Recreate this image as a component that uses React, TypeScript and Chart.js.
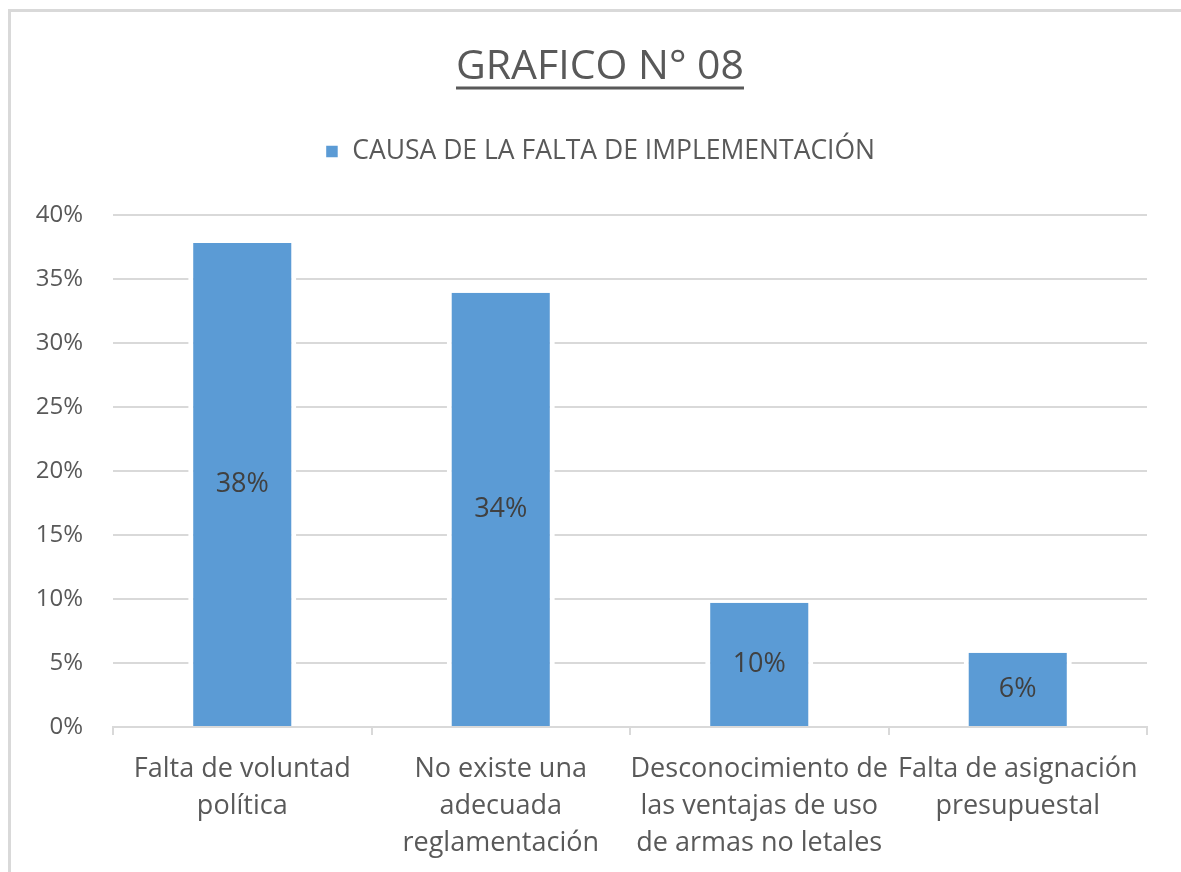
import React, { useEffect, useRef } from "react";
import { Chart, registerables } from "chart.js";

Chart.register(...registerables);

const titleText = "GRAFICO N° 08";
const seriesName = "CAUSA DE LA FALTA DE IMPLEMENTACIÓN";
const categories: string[][] = [
  ["Falta de voluntad", "política"],
  ["No existe una", "adecuada", "reglamentación"],
  ["Desconocimiento de", "las ventajas de uso", "de armas no letales"],
  ["Falta de asignación", "presupuestal"],
];
const values: number[] = [37.8, 33.9, 9.7, 5.8];
const yMax = 40;
const yStep = 5;

const FONT = "'Open Sans', 'Noto Sans', sans-serif";
const TEXT = "#595959";
const GRID = "#d9d9d9";
const BAR = "#5B9BD5";

const TITLE_SIZE = 41;
const CANVAS_W = 1200;
const CANVAS_H = 882;

const legendSpacer = {
  id: "legendSpacer",
  beforeInit(chart: any) {
    if (!chart.legend) return;
    const orig = chart.legend.fit;
    chart.legend.fit = function fit() {
      orig.bind(chart.legend)();
      this.height += 40;
    };
  },
};

const underlineTitle = {
  id: "underlineTitle",
  afterDraw(chart: any) {
    const t = chart.titleBlock;
    if (!t) return;
    const ctx = chart.ctx;
    ctx.save();
    ctx.font = `normal ${TITLE_SIZE}px ${FONT}`;
    const w = ctx.measureText(titleText).width;
    const cx = (t.left + t.right) / 2;
    const top = t.top + t.options.padding.top;
    const cy = top + (TITLE_SIZE * 1.2) / 2;
    const y = cy + TITLE_SIZE * 0.5;
    ctx.strokeStyle = TEXT;
    ctx.lineWidth = 3;
    ctx.beginPath();
    ctx.moveTo(cx - w / 2, y);
    ctx.lineTo(cx + w / 2, y);
    ctx.stroke();
    ctx.restore();
  },
};

const barLabels = {
  id: "barLabels",
  afterDatasetsDraw(chart: any) {
    const ctx = chart.ctx;
    const meta = chart.getDatasetMeta(0);
    ctx.save();
    ctx.font = `normal 27px ${FONT}`;
    ctx.fillStyle = "#404040";
    ctx.textAlign = "center";
    ctx.textBaseline = "middle";
    meta.data.forEach((bar: any, i: number) => {
      const v = chart.data.datasets[0].data[i] as number;
      ctx.fillText(Math.round(v) + "%", bar.x, (bar.y + bar.base) / 2);
    });
    ctx.restore();
  },
};

export default function App() {
  const ref = useRef<HTMLCanvasElement | null>(null);
  useEffect(() => {
    if (!ref.current) return;
    const chart = new Chart(ref.current, {
      type: "bar",
      data: {
        labels: categories,
        datasets: [
          {
            label: seriesName,
            data: values,
            backgroundColor: BAR,
            borderColor: "#ffffff",
            borderWidth: { left: 5, right: 5, top: 0, bottom: 0 } as any,
            borderSkipped: false,
            categoryPercentage: 1,
            barPercentage: 0.418,
          },
        ],
      },
      options: {
        animation: false,
        responsive: false,
        maintainAspectRatio: false,
        layout: { padding: { left: 0, right: 0, top: 0, bottom: 4 } },
        plugins: {
          title: {
            display: true,
            text: titleText,
            color: TEXT,
            font: { family: FONT, size: TITLE_SIZE, weight: "normal" as any, lineHeight: 1.2 },
            padding: { top: 43, bottom: 36 },
          },
          legend: {
            display: true,
            position: "top",
            labels: {
              color: TEXT,
              font: { family: FONT, size: 26.5 },
              boxWidth: 14,
              boxHeight: 14,
              padding: 10,
            },
          },
          tooltip: { enabled: false },
        },
        scales: {
          x: {
            offset: true,
            grid: {
              display: true,
              drawOnChartArea: false,
              drawTicks: true,
              tickLength: 8,
              color: GRID,
              lineWidth: 2,
            },
            border: { display: true, color: GRID, width: 2 },
            ticks: {
              color: TEXT,
              font: { family: FONT, size: 27, lineHeight: 1.37 },
              padding: 16,
              maxRotation: 0,
              minRotation: 0,
              autoSkip: false,
            },
          },
          y: {
            min: 0,
            max: yMax,
            afterFit(scale: any) {
              scale.width = 113;
            },
            grid: { color: GRID, lineWidth: 2, drawTicks: false },
            border: { display: false },
            ticks: {
              stepSize: yStep,
              color: TEXT,
              font: { family: FONT, size: 24 },
              padding: 30,
              callback: (v: any) => v + "%",
            },
          },
          yRight: {
            type: "linear",
            position: "right",
            display: true,
            afterFit(scale: any) {
              scale.width = CANVAS_W - 1147;
            },
            grid: { display: false, drawTicks: false },
            border: { display: false },
            ticks: { display: false },
          },
        },
      },
      plugins: [legendSpacer, underlineTitle, barLabels],
    });
    return () => chart.destroy();
  }, []);

  return (
    <div
      style={{
        position: "fixed",
        left: 0,
        top: 0,
        width: 1181,
        height: 872,
        overflow: "hidden",
        background: "#ffffff",
      }}
    >
      <div
        style={{
          position: "absolute",
          left: 8,
          top: 9,
          width: 1400,
          height: 1100,
          border: `3px solid ${GRID}`,
          boxSizing: "border-box",
        }}
      />
      <canvas
        ref={ref}
        width={CANVAS_W}
        height={CANVAS_H}
        style={{ position: "absolute", left: 0, top: 0, width: CANVAS_W, height: CANVAS_H }}
      />
    </div>
  );
}
